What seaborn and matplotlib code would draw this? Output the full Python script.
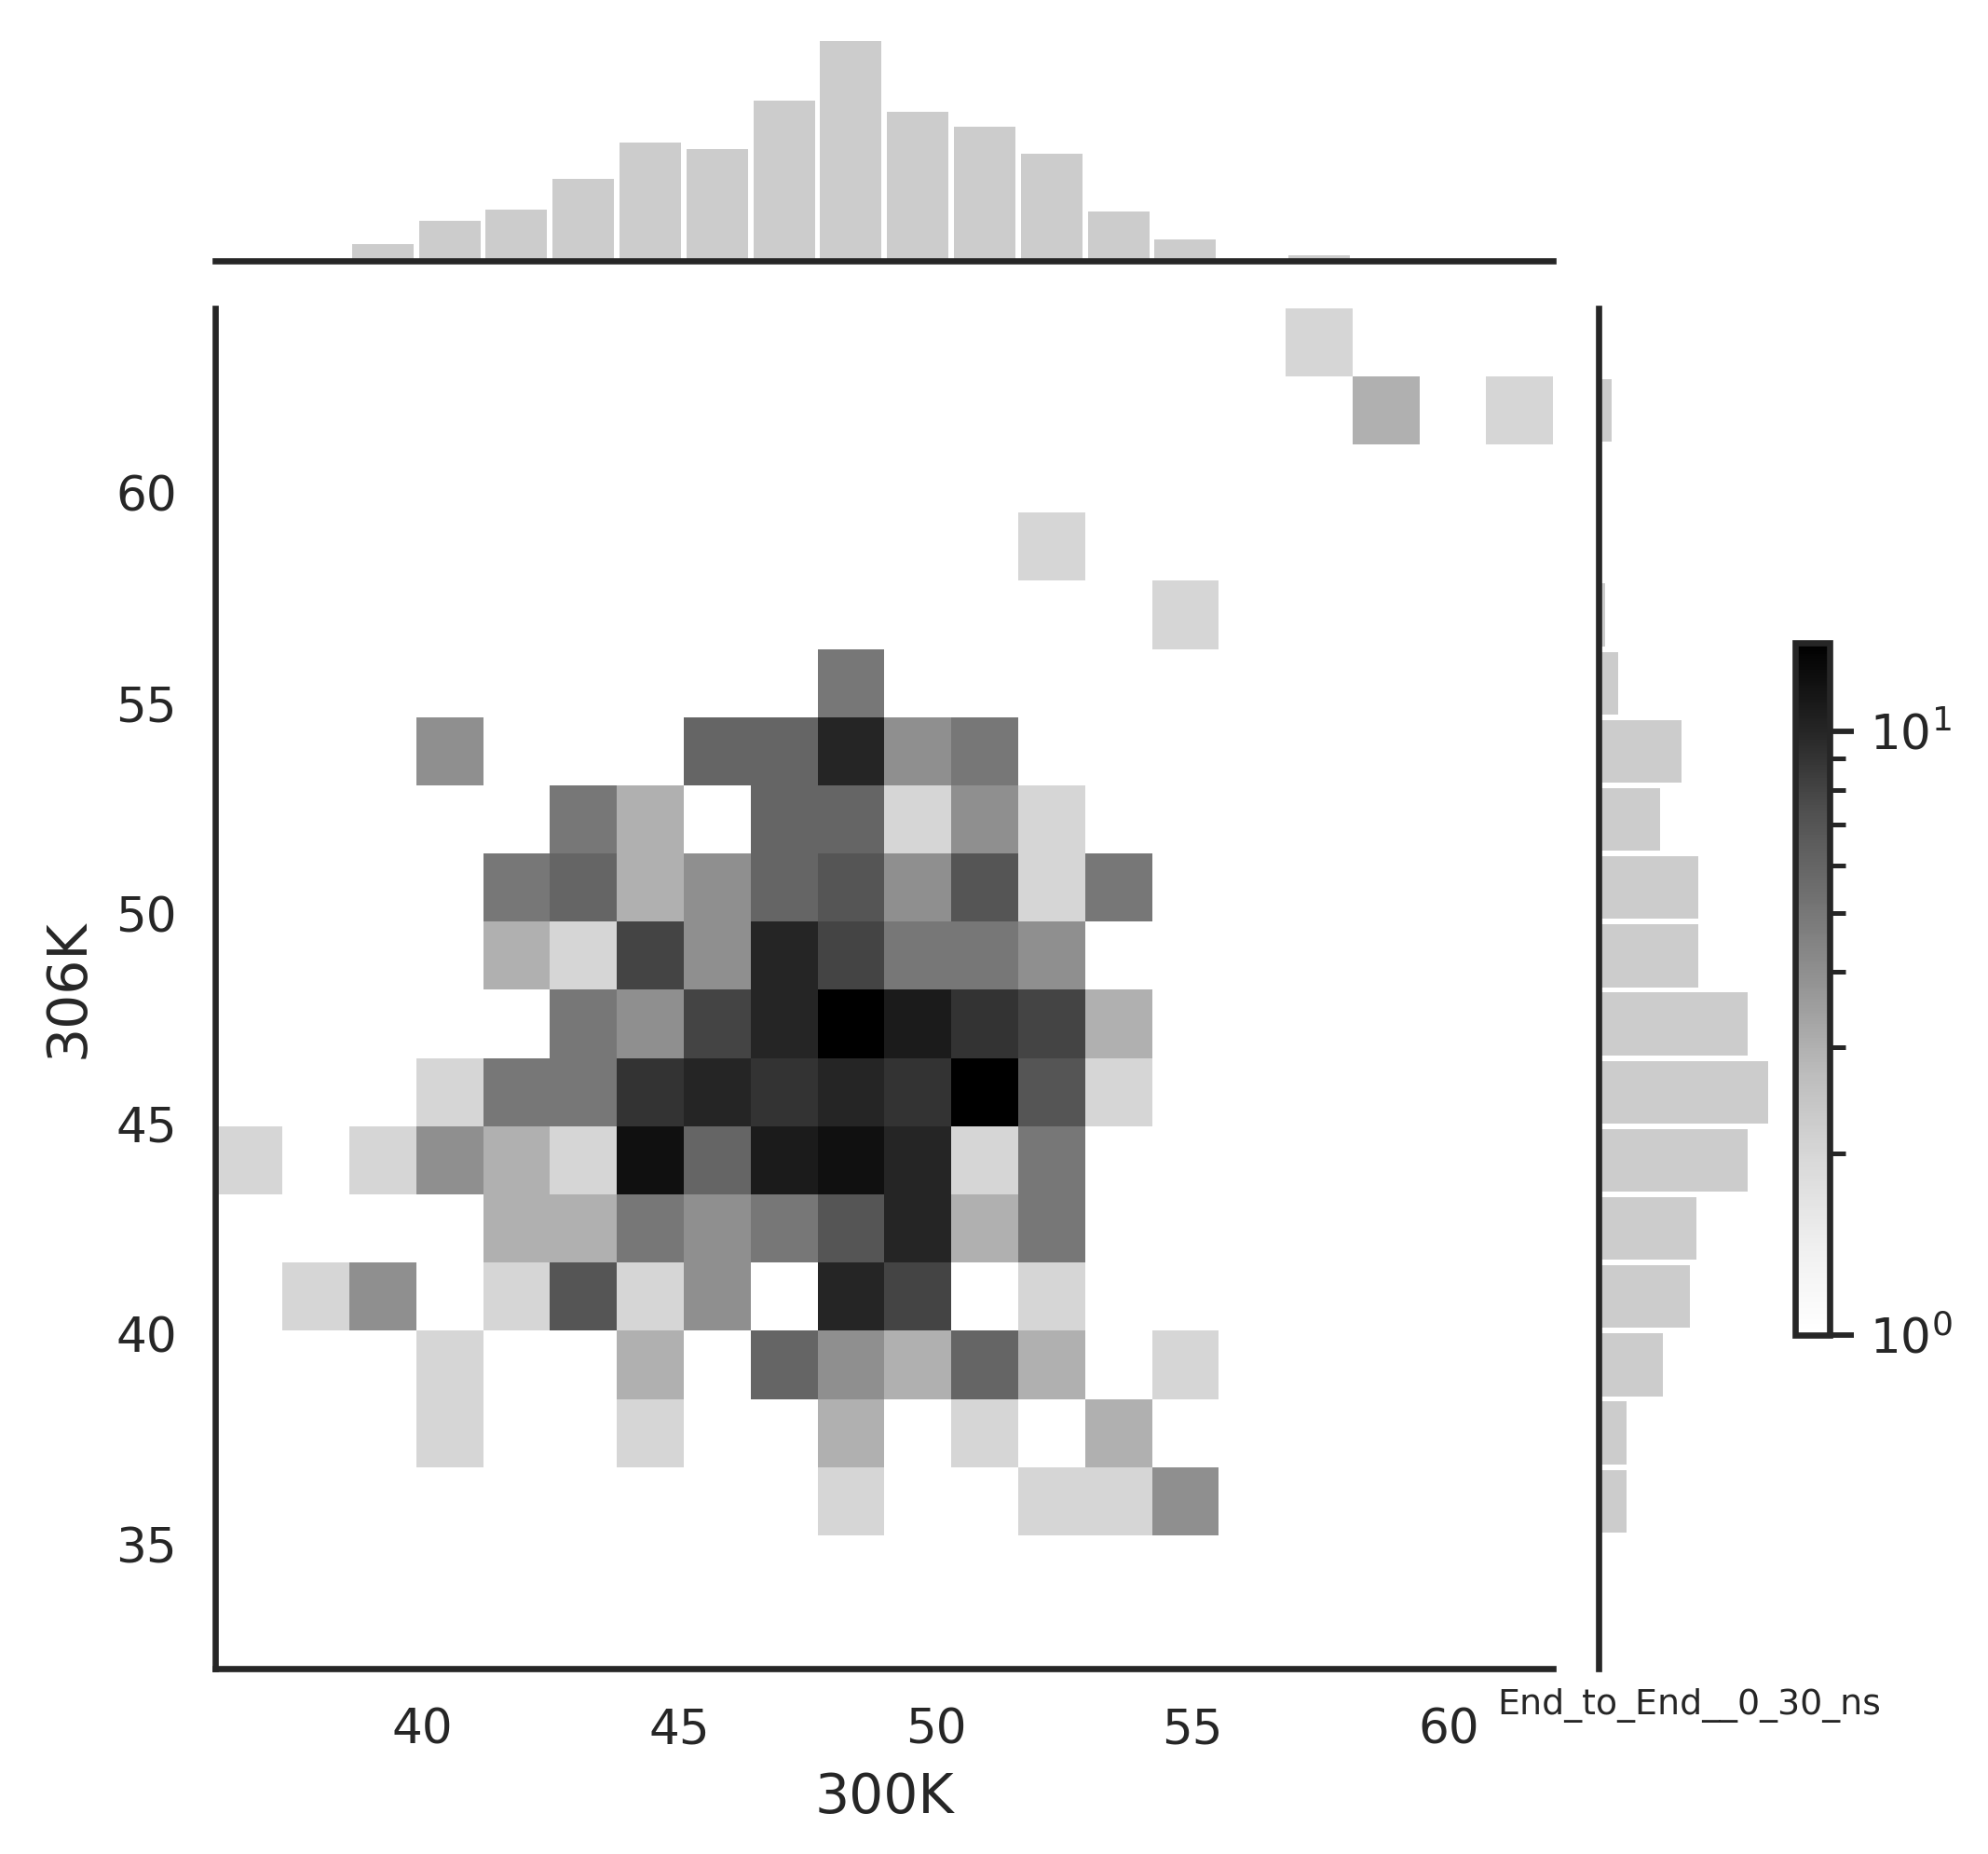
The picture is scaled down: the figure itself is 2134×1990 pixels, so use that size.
import numpy as np
import pandas as pd
import matplotlib
matplotlib.use("Agg")
import matplotlib.pyplot as plt
from matplotlib.colors import LogNorm
import seaborn as sns

# bin ranges of the two temperatures
x_min, x_max, n_xbins = 35.97, 62.03, 20   # 300K
y_min, y_max, n_ybins = 35.22, 64.40, 18   # 306K

# joint counts: one row per 306K bin (first row = top bin), one column per 300K bin
joint_counts = [
    [0, 0, 0, 0, 0, 0, 0, 0, 0, 0, 0, 0, 0, 0, 0, 0, 2, 0, 0, 0],
    [0, 0, 0, 0, 0, 0, 0, 0, 0, 0, 0, 0, 0, 0, 0, 0, 0, 3, 0, 2],
    [0, 0, 0, 0, 0, 0, 0, 0, 0, 0, 0, 0, 0, 0, 0, 0, 0, 0, 0, 0],
    [0, 0, 0, 0, 0, 0, 0, 0, 0, 0, 0, 0, 2, 0, 0, 0, 0, 0, 0, 0],
    [0, 0, 0, 0, 0, 0, 0, 0, 0, 0, 0, 0, 0, 0, 2, 0, 0, 0, 0, 0],
    [0, 0, 0, 0, 0, 0, 0, 0, 0, 5, 0, 0, 0, 0, 0, 0, 0, 0, 0, 0],
    [0, 0, 0, 4, 0, 0, 0, 6, 6, 10, 4, 5, 0, 0, 0, 0, 0, 0, 0, 0],
    [0, 0, 0, 0, 0, 5, 3, 0, 6, 6, 2, 4, 2, 0, 0, 0, 0, 0, 0, 0],
    [0, 0, 0, 0, 5, 6, 3, 4, 6, 7, 4, 7, 2, 5, 0, 0, 0, 0, 0, 0],
    [0, 0, 0, 0, 3, 2, 8, 4, 10, 8, 5, 5, 4, 0, 0, 0, 0, 0, 0, 0],
    [0, 0, 0, 0, 0, 5, 4, 8, 10, 14, 11, 9, 8, 3, 0, 0, 0, 0, 0, 0],
    [0, 0, 0, 2, 5, 5, 9, 10, 9, 10, 9, 14, 7, 2, 0, 0, 0, 0, 0, 0],
    [2, 0, 2, 4, 3, 2, 12, 6, 11, 12, 10, 2, 5, 0, 0, 0, 0, 0, 0, 0],
    [0, 0, 0, 0, 3, 3, 5, 4, 5, 7, 10, 3, 5, 0, 0, 0, 0, 0, 0, 0],
    [0, 2, 4, 0, 2, 7, 2, 4, 0, 10, 8, 0, 2, 0, 0, 0, 0, 0, 0, 0],
    [0, 0, 0, 2, 0, 0, 3, 0, 6, 4, 3, 6, 3, 0, 2, 0, 0, 0, 0, 0],
    [0, 0, 0, 2, 0, 0, 2, 0, 0, 3, 0, 2, 0, 3, 0, 0, 0, 0, 0, 0],
    [0, 0, 0, 0, 0, 0, 0, 0, 0, 2, 0, 0, 2, 2, 4, 0, 0, 0, 0, 0],
]

# marginal bar heights (left to right for 300K, top to bottom for 306K)
x_marg = [0.3, 0.3, 7.4, 17.9, 22.9, 36.4, 52.7, 49.8, 71.2, 98.0,
          66.2, 59.9, 47.7, 22.1, 9.5, 0, 2.4, 0.3, 0, 0]
y_marg = [0.45, 6.4, 0, 0, 3.2, 9.5, 40.5, 30.0, 48.6, 48.6,
          72.7, 82.7, 72.7, 47.7, 44.5, 31.4, 13.6, 13.6]

x_edges = list(np.linspace(x_min, x_max, n_xbins + 1))
y_edges = list(np.linspace(y_min, y_max, n_ybins + 1))
x_cent = [(a + b) / 2 for a, b in zip(x_edges[:-1], x_edges[1:])]
y_cent = [(a + b) / 2 for a, b in zip(y_edges[:-1], y_edges[1:])]

rows = []
for r, line in enumerate(joint_counts):
    for c, n in enumerate(line):
        if n > 0:
            rows.append((x_cent[c], y_cent[n_ybins - 1 - r], n))
joint = pd.DataFrame(rows, columns=["300K", "306K", "n"])
margx = pd.DataFrame({"300K": x_cent, "n": x_marg})
margy = pd.DataFrame({"306K": y_cent[::-1], "n": y_marg})

sns.set_style("white")
plt.rcParams.update({
    "font.family": ["DejaVu Sans"],
    "axes.linewidth": 1.6,
    "axes.edgecolor": ".15",
    "text.color": ".15",
    "axes.labelcolor": ".15",
    "xtick.color": ".15",
    "ytick.color": ".15",
    "xtick.labelsize": 12.4,
    "ytick.labelsize": 12.4,
    "axes.labelsize": 14,
})

g = sns.JointGrid(height=7, ratio=5, space=0.2)
fig = g.figure
fig.set_size_inches(2134 / 300, 1990 / 300)
cax = fig.add_axes([0.9028, 0.2799, 0.01757, 0.3734])

sns.histplot(data=joint, x="300K", y="306K", weights="n", bins=[x_edges, y_edges],
             cmap="Greys", norm=LogNorm(vmin=1, vmax=14), vmin=None, vmax=None,
             cbar=True, cbar_ax=cax, ax=g.ax_joint)

sns.histplot(data=margx, x="300K", weights="n", bins=x_edges, ax=g.ax_marg_x,
             color="#cccccc", alpha=1, linewidth=0, shrink=0.92)
sns.histplot(data=margy, y="306K", weights="n", bins=y_edges, ax=g.ax_marg_y,
             color="#cccccc", alpha=1, linewidth=0, shrink=0.92)

# layout
g.ax_joint.set_position([0.1084, 0.1000, 0.6729, 0.7338])
g.ax_marg_x.set_position([0.1084, 0.8593, 0.6729, 0.1246])
g.ax_marg_y.set_position([0.8040, 0.1000, 0.1162, 0.7338])

g.ax_joint.set_xlim(x_min, x_max)
g.ax_joint.set_ylim(32.05, y_max)
g.ax_marg_x.set_ylim(0, max(x_marg) * 1.05)
g.ax_marg_y.set_xlim(0, 112.7)

g.ax_joint.tick_params(length=0, pad=10)
g.ax_joint.set_xlabel("300K", labelpad=4.5)
g.ax_joint.set_ylabel("306K", labelpad=5.5)
for ax in (g.ax_marg_x, g.ax_marg_y):
    ax.tick_params(length=0, labelleft=False, labelbottom=False)

cb = g.ax_joint.collections[0].colorbar
cb.outline.set_linewidth(1.6)
cb.outline.set_edgecolor(".15")
cax.tick_params(which="major", length=6.2, width=1.4, pad=4, labelsize=12.4, right=True)
cax.tick_params(which="minor", length=4, width=1.2, right=True)

fig.text(0.7531, 0.0754, "End_to_End__0_30_ns", fontsize=9.1, va="baseline")

fig.savefig("out.png", dpi=300)
